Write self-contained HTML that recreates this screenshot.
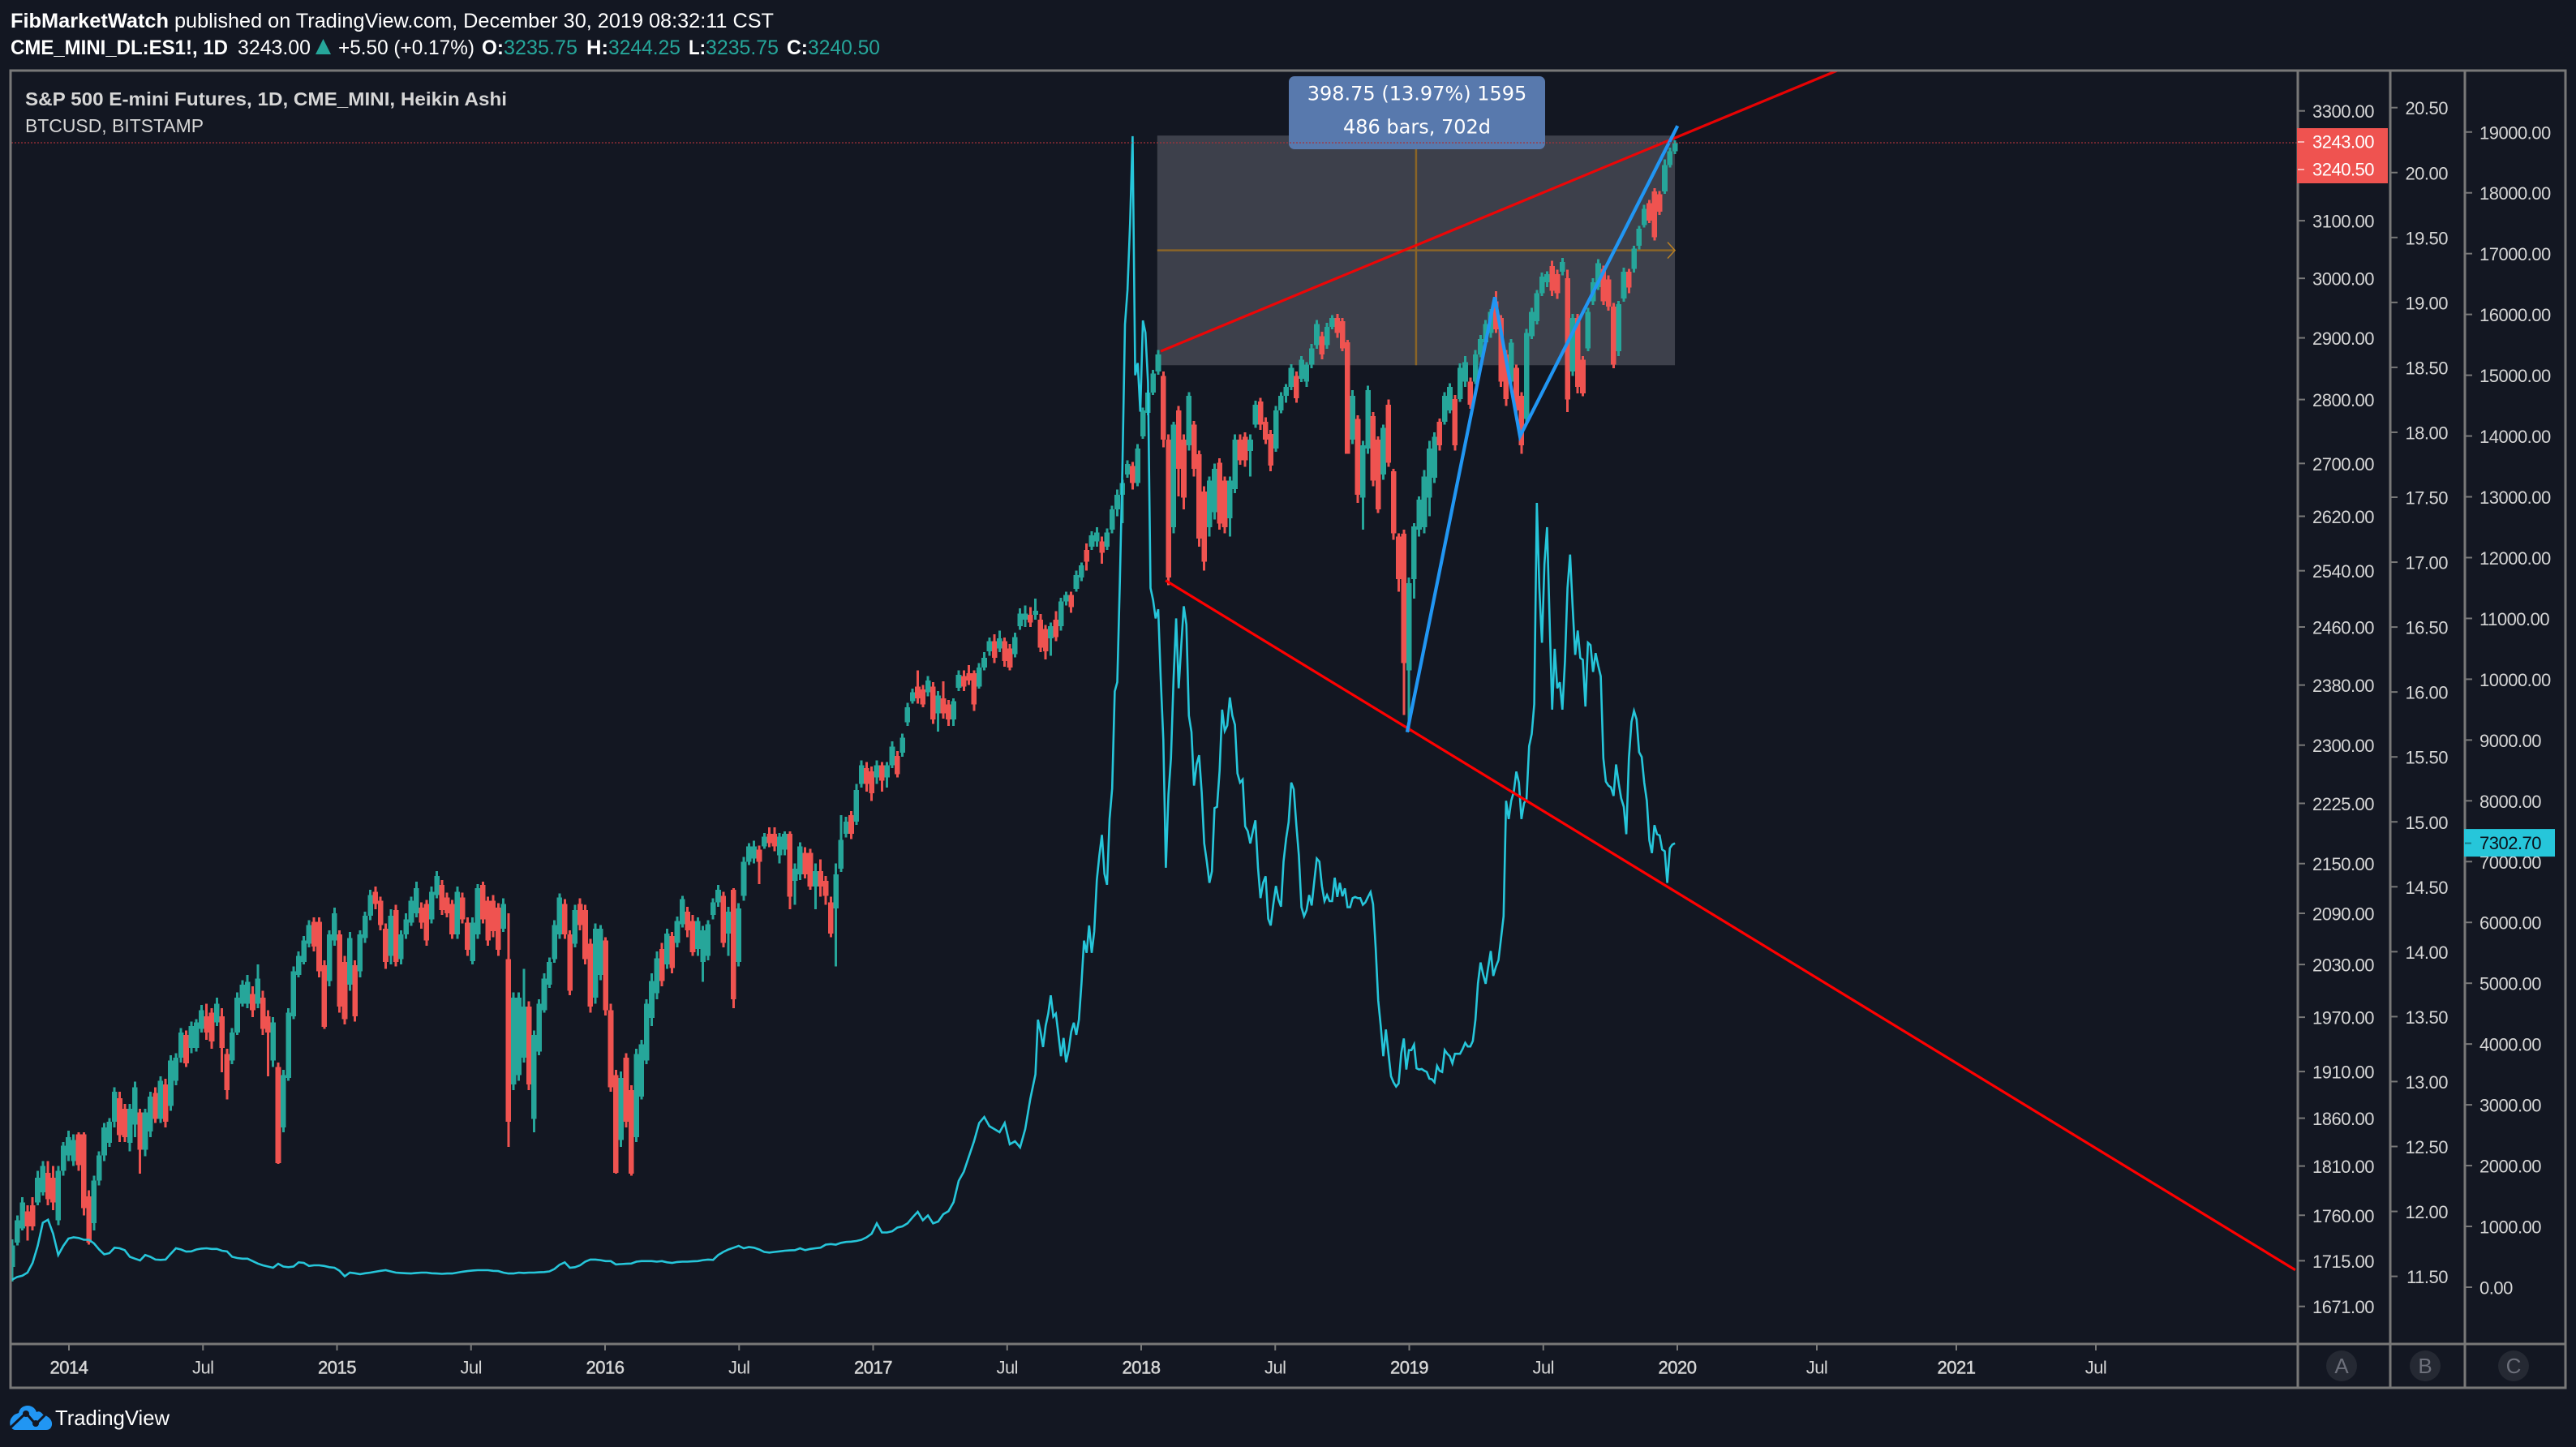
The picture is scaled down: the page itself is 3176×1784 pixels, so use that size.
<!DOCTYPE html>
<html lang="en">
<head>
<meta charset="utf-8">
<title>S&amp;P 500 E-mini Futures vs BTCUSD</title>
<style>
html,body{margin:0;padding:0;background:#131722;width:3176px;height:1784px;overflow:hidden}
svg{display:block;font-family:"Liberation Sans",Arial,sans-serif}
.tick-label{font-size:22px;fill:#d6d6d6;letter-spacing:-.5px;dominant-baseline:central}
</style>
</head>
<body>
<svg id="chart" xmlns="http://www.w3.org/2000/svg" width="3176" height="1784" viewBox="0 0 3176 1784">
  <rect x="0" y="0" width="3176" height="1784" fill="#131722"/>

  <g font-size="25" fill="#ffffff">
    <text x="13" y="34" font-weight="700" textLength="195" lengthAdjust="spacingAndGlyphs">FibMarketWatch</text>
    <text x="215" y="34" textLength="739" lengthAdjust="spacingAndGlyphs">published on TradingView.com, December 30, 2019 08:32:11 CST</text>
    <text x="13" y="67" font-weight="700" textLength="268" lengthAdjust="spacingAndGlyphs">CME_MINI_DL:ES1!, 1D</text>
    <text x="293" y="67" textLength="90" lengthAdjust="spacingAndGlyphs">3243.00</text>
    <polygon points="398.5,48 408,67 389,67" fill="#26a69a"/>
    <text x="417" y="67" textLength="168" lengthAdjust="spacingAndGlyphs">+5.50 (+0.17%)</text>
    <text x="594" y="67" font-weight="700" textLength="27" lengthAdjust="spacingAndGlyphs">O:</text>
    <text x="621" y="67" fill="#26a69a" textLength="91" lengthAdjust="spacingAndGlyphs">3235.75</text>
    <text x="723" y="67" font-weight="700" textLength="27" lengthAdjust="spacingAndGlyphs">H:</text>
    <text x="750" y="67" fill="#26a69a" textLength="89" lengthAdjust="spacingAndGlyphs">3244.25</text>
    <text x="849" y="67" font-weight="700" textLength="21" lengthAdjust="spacingAndGlyphs">L:</text>
    <text x="870" y="67" fill="#26a69a" textLength="90" lengthAdjust="spacingAndGlyphs">3235.75</text>
    <text x="970" y="67" font-weight="700" textLength="26" lengthAdjust="spacingAndGlyphs">C:</text>
    <text x="996" y="67" fill="#26a69a" textLength="89" lengthAdjust="spacingAndGlyphs">3240.50</text>
  </g>

  <g id="plot"></g>

  <g stroke="#787878" stroke-width="3" fill="none">
    <rect x="13" y="87" width="3150" height="1624"/>
    <line x1="13" y1="1657" x2="3163" y2="1657"/>
    <line x1="2833" y1="87" x2="2833" y2="1711"/>
    <line x1="2947" y1="87" x2="2947" y2="1711"/>
    <line x1="3039" y1="87" x2="3039" y2="1711"/>
  </g>

  <g id="axes"></g>

  <g fill="#d6d6d6">
    <text x="31" y="130" font-size="23" font-weight="700" textLength="594" lengthAdjust="spacingAndGlyphs">S&amp;P 500 E-mini Futures, 1D, CME_MINI, Heikin Ashi</text>
    <text x="31" y="163" font-size="23" textLength="220" lengthAdjust="spacingAndGlyphs">BTCUSD, BITSTAMP</text>
  </g>

  <g font-size="26" text-anchor="middle">
    <circle cx="2887" cy="1684" r="19" fill="#252933"/>
    <text x="2887" y="1693" fill="#6d707b">A</text>
    <circle cx="2990" cy="1684" r="19" fill="#252933"/>
    <text x="2990" y="1693" fill="#6d707b">B</text>
    <circle cx="3099" cy="1684" r="19" fill="#252933"/>
    <text x="3099" y="1693" fill="#6d707b">C</text>
  </g>

  <g>
    <path fill="#2196f3" d="M18 1763 C11 1761 11 1751 15 1747 C18 1743 21 1743 23 1742 C24 1736 29 1733 34 1733 C40 1733 44 1737 45 1741 C48 1739 51 1741 53 1744 C60 1746 65 1751 64 1757 C63 1761 61 1763 57 1763 Z"/>
    <polyline points="13,1760 32,1742 44,1756 58,1742" fill="none" stroke="#131722" stroke-width="3"/>
    <circle cx="32" cy="1743" r="4" fill="#131722"/>
    <circle cx="44" cy="1755" r="4" fill="#131722"/>
    <text x="68" y="1757" font-size="26" fill="#ffffff" textLength="141" lengthAdjust="spacingAndGlyphs">TradingView</text>
  </g>
</svg>

<script>
// Weekly Heikin Ashi bars of ES1!.
const opens=[1709,1733,1747,1764,1770,1773,1783,1803,1798,1755,
1805,1821,1815,1843,1843,1779,1752,1795,1821,1834,
1856,1881,1870,1834,1853,1866,1827,1846,1887,1859,
1896,1873,1900,1925,1950,1936,1936,1957,1971,1975,
1964,1971,1929,1922,1953,1985,1985,1996,1985,1992,
1971,1922,1915,1850,1903,1971,2018,2033,2054,2080,
2080,2029,2011,2058,2065,2033,2007,2029,2022,2061,
2087,2116,2105,2072,2040,2094,2036,2065,2079,2090,
2097,2101,2083,2112,2124,2109,2101,2065,2109,2079,
2034,2065,2124,2105,2105,2097,2072,2036,1896,1906,
1925,1982,1859,1932,1978,2007,2036,2065,2101,2065,
2054,2101,2094,2054,1992,2018,2058,1978,1906,1837,
1925,1890,1840,1883,1922,1969,1997,2048,2030,2063,
2055,2077,2092,2081,2048,2033,2040,2088,2103,2111,
2066,2118,2033,2111,2152,2156,2167,2171,2187,2187,
2160,2167,2187,2129,2137,2163,2163,2122,2141,2129,
2103,2096,2144,2187,2210,2202,2250,2270,2266,2258,
2274,2258,2274,2286,2290,2330,2358,2378,2374,2370,
2378,2342,2362,2354,2334,2376,2392,2396,2396,2378,
2404,2426,2440,2430,2440,2430,2422,2461,2470,2477,
2477,2470,2457,2444,2470,2461,2496,2505,2514,2530,
2570,2575,2583,2583,2575,2600,2630,2652,2683,2696,
2670,2742,2779,2811,2845,2838,2737,2604,2783,2737,
2728,2760,2714,2657,2604,2626,2701,2674,2617,2661,
2737,2741,2719,2760,2797,2765,2746,2723,2783,2806,
2820,2838,2833,2829,2856,2888,2903,2888,2918,2933,
2928,2893,2737,2769,2648,2723,2774,2737,2683,2792,
2688,2590,2594,2400,2528,2600,2604,2648,2678,2765,
2765,2783,2801,2801,2829,2829,2829,2873,2893,2908,
2961,2933,2873,2829,2851,2806,2769,2903,2928,2975,
2993,3021,3007,3011,3000,2845,2933,2864,2883,2961,
2985,3016,2998,2952,2878,2966,3011,3016,3056,3092,
3131,3152,3147,3152,3200,3225];
const highs=[1736,1760,1778,1770,1778,1805,1815,1815,1810,1810,
1835,1847,1843,1845,1845,1785,1800,1825,1855,1860,
1893,1888,1875,1875,1899,1870,1870,1888,1893,1905,
1902,1928,1930,1958,1955,1965,1968,1984,1985,1980,
1992,1980,1935,1958,1998,2012,2018,2005,2030,2000,
1978,1970,1920,1912,1980,2028,2045,2063,2082,2085,
2085,2035,2070,2097,2070,2040,2068,2035,2070,2092,
2118,2122,2110,2078,2095,2100,2070,2090,2110,2128,
2103,2106,2122,2141,2130,2115,2106,2122,2115,2085,
2085,2125,2128,2110,2112,2102,2108,2090,1998,1998,
2025,1988,1955,1990,2020,2038,2082,2114,2107,2070,
2100,2108,2100,2060,2078,2076,2062,1985,1912,1910,
1930,1895,1935,1945,1990,2020,2045,2055,2072,2068,
2086,2111,2098,2088,2085,2075,2082,2108,2124,2116,
2098,2120,2102,2158,2175,2178,2172,2188,2195,2195,
2188,2190,2190,2150,2176,2170,2168,2150,2155,2135,
2110,2150,2210,2208,2215,2250,2280,2278,2272,2280,
2278,2278,2305,2292,2315,2356,2375,2400,2380,2392,
2384,2372,2385,2360,2362,2400,2400,2407,2400,2410,
2425,2445,2450,2455,2445,2436,2452,2486,2490,2488,
2500,2478,2463,2466,2482,2501,2510,2510,2540,2552,
2580,2598,2604,2590,2602,2636,2660,2675,2705,2702,
2730,2787,2815,2848,2880,2845,2745,2765,2790,2745,
2812,2766,2720,2665,2680,2700,2708,2680,2680,2745,
2745,2748,2745,2798,2803,2772,2752,2790,2812,2825,
2857,2845,2870,2860,2890,2930,2910,2925,2938,2940,
2933,2897,2815,2775,2735,2822,2780,2742,2760,2800,
2692,2595,2600,2530,2610,2650,2690,2735,2748,2770,
2812,2826,2807,2858,2870,2835,2880,2905,2930,2948,
2978,2938,2880,2898,2856,2812,2915,2950,2980,3010,
3012,3030,3015,3035,3015,2940,2940,2870,2950,3000,
3033,3022,3005,2958,2962,3018,3016,3056,3091,3128,
3137,3158,3153,3210,3232,3245];
const lows=[1695,1730,1745,1735,1745,1770,1780,1770,1765,1750,
1800,1815,1810,1805,1760,1731,1745,1790,1815,1830,
1850,1835,1835,1825,1840,1802,1820,1840,1855,1855,
1850,1868,1895,1920,1915,1930,1932,1953,1945,1935,
1960,1909,1880,1918,1950,1982,1980,1970,1980,1950,
1905,1915,1812,1845,1900,1968,2015,2030,2050,2045,
2015,1957,2005,2052,1975,1962,2000,1965,2015,2055,
2082,2095,2070,2025,2030,2028,2030,2060,2075,2085,
2072,2052,2078,2108,2088,2085,2060,2060,2078,2040,
2030,2060,2078,2052,2062,2040,2068,1830,1890,1900,
1920,1890,1845,1928,1975,2003,2032,2060,2060,1995,
2050,2070,2030,1975,1985,2012,1972,1888,1802,1830,
1850,1800,1835,1880,1918,1960,1990,2005,2025,2020,
2050,2073,2062,2040,2040,2010,2035,2083,2098,2050,
2040,1980,2028,2105,2148,2150,2125,2168,2170,2165,
2150,2160,2095,2100,2130,2132,2118,2095,2110,2100,
2062,2028,2140,2182,2180,2198,2245,2240,2228,2250,
2240,2245,2270,2258,2285,2325,2355,2355,2350,2365,
2328,2318,2335,2325,2325,2372,2372,2380,2345,2375,
2400,2420,2410,2425,2405,2400,2418,2456,2460,2460,
2470,2425,2415,2420,2440,2455,2490,2480,2510,2525,
2540,2570,2575,2550,2570,2595,2620,2610,2678,2660,
2665,2738,2775,2807,2840,2725,2519,2595,2650,2630,
2720,2680,2575,2540,2590,2615,2600,2595,2590,2655,
2698,2695,2680,2755,2752,2730,2688,2718,2778,2795,
2815,2795,2828,2820,2850,2882,2865,2882,2914,2900,
2878,2715,2730,2640,2600,2715,2665,2625,2675,2695,
2585,2510,2340,2318,2500,2590,2595,2620,2670,2720,
2760,2778,2720,2796,2820,2785,2825,2868,2888,2900,
2908,2820,2790,2822,2775,2715,2760,2898,2922,2970,
2985,2970,2965,3005,2780,2838,2810,2805,2878,2955,
2980,2955,2945,2850,2870,2960,2975,3010,3050,3088,
3096,3065,3110,3148,3195,3220];
const closes=[1730,1755,1773,1749,1749,1798,1810,1776,1773,1805,
1831,1840,1837,1811,1767,1733,1795,1821,1850,1856,
1888,1842,1840,1870,1893,1827,1866,1883,1859,1900,
1856,1922,1925,1953,1919,1960,1964,1978,1953,1943,
1985,1936,1890,1953,1992,2007,2010,1978,2014,1957,
1953,1964,1813,1906,1975,2022,2040,2058,2076,2051,
2022,1959,2065,2090,1982,1968,2061,1971,2065,2087,
2112,2101,2076,2033,2087,2033,2065,2083,2105,2120,
2079,2058,2116,2135,2094,2090,2065,2116,2083,2047,
2079,2120,2083,2058,2069,2047,2101,1856,1992,1992,
1982,1896,1950,1985,2014,2033,2076,2109,2065,2000,
2094,2076,2036,1982,2072,2072,1978,1893,1803,1903,
1856,1802,1929,1940,1985,2011,2037,2011,2066,2026,
2081,2107,2070,2044,2081,2070,2077,2103,2118,2055,
2092,1990,2096,2152,2171,2171,2152,2183,2175,2171,
2183,2187,2110,2144,2171,2137,2122,2141,2122,2111,
2066,2137,2179,2202,2187,2242,2274,2250,2238,2274,
2254,2274,2298,2262,2310,2350,2370,2362,2354,2386,
2334,2366,2342,2334,2358,2394,2378,2386,2354,2404,
2417,2440,2417,2444,2413,2404,2446,2479,2479,2466,
2483,2431,2426,2461,2446,2496,2505,2488,2534,2548,
2553,2592,2596,2566,2596,2630,2652,2670,2699,2670,
2723,2783,2811,2842,2873,2737,2530,2760,2692,2648,
2806,2692,2587,2553,2674,2692,2609,2604,2674,2737,
2705,2705,2737,2792,2760,2737,2697,2783,2806,2820,
2851,2802,2864,2856,2883,2923,2873,2918,2933,2908,
2883,2715,2806,2652,2728,2815,2674,2630,2755,2701,
2595,2528,2410,2522,2605,2645,2680,2723,2741,2728,
2806,2820,2728,2851,2860,2792,2873,2898,2923,2943,
2914,2829,2801,2892,2783,2728,2908,2943,2975,3003,
3007,2979,2975,3028,2800,2933,2820,2810,2943,2993,
3026,2961,2952,2856,2956,3011,2984,3051,3086,3121,
3100,3071,3116,3200,3225,3240.5];

// BTCUSD closes: one reading per bar up to mid 2017, two per bar afterwards.
const btcWeekly=[123,170,189,240,400,680,1060,1110,880,530,
680,800,820,810,780,780,720,620,540,560,
650,640,610,500,470,440,530,500,455,450,
455,550,640,620,585,590,620,635,640,630,
630,600,590,500,480,470,470,430,390,360,
340,320,385,340,330,340,410,400,350,360,
360,350,330,320,270,180,240,230,215,230,
240,255,270,280,260,240,235,230,225,235,
240,240,230,225,220,225,225,240,255,265,
275,280,280,280,270,265,240,225,225,240,
235,240,240,245,250,260,300,370,410,320,
330,360,420,455,455,445,430,430,375,380,
385,390,420,430,430,430,420,430,410,400,
415,420,420,425,430,445,455,450,530,580,
620,650,680,640,660,650,620,580,570,580,
590,600,605,610,640,610,630,640,650,700,
710,700,730,745,750,760,780,820,880,1050,
900,900,920,980,1000,1050,1150,1240,1100,1180,
1050,1080,1200,1250,1400,1750,1900,2150,2400,2700,
2800,2650,2600,2550,2700,2350,2400,2300,2600,3100];
const btcHalfWeekly=[3500,4400,4200,3950,4300,4500,4800,4450,4500,4150,
3800,4100,3700,3900,4200,4350,4150,4400,5000,5700,
5500,5950,5500,5850,6700,7100,7440,6800,6620,7700,
8200,9800,9950,11600,13450,15835,16400,17500,18932,15000,
15200,14400,15900,15700,14880,11500,11300,11000,11150,10000,
9000,6900,8100,8700,10000,11000,9850,10560,11200,10900,
9400,9130,8250,8600,8750,8140,7300,7000,6650,6840,
7880,7900,8500,9500,9150,9240,9700,9400,9250,8450,
8300,8350,7580,7500,7300,7500,7680,6900,6400,6650,
6760,6060,5950,6300,6600,6380,6260,7000,7380,7650,
8300,8190,7600,7100,6250,6100,6200,6450,6280,6680,
7050,7000,6600,6350,6450,6350,6350,6735,6420,6650,
6430,6560,6250,6250,6400,6420,6400,6400,6290,6330,
6420,6500,6300,5580,4720,4290,3800,4240,3850,3470,
3370,3300,3350,3850,4090,3580,3900,3900,3990,3600,
3580,3590,3560,3540,3430,3420,3370,3640,3560,3540,
3900,3840,3800,3680,3840,3840,3840,3920,4020,3960,
3960,4050,4400,5000,5340,5150,4990,5260,5530,5120,
5270,5380,5730,6100,8000,7700,8000,8150,8480,8300,
7700,7960,8030,8900,9100,9590,12900,11500,10600,11900,
12500,11000,9500,10500,9850,9950,9500,10300,11500,12050,
11200,10400,10800,10350,10320,9550,10600,10560,10120,10430,
10220,10050,8700,8317,8250,8220,8080,8598,8290,8040,
7900,7450,8700,9300,9480,9338,8800,8720,8300,8000,
7350,7140,7600,7450,7430,7200,7170,6650,7220,7280,7302.7];

// Axis ticks and printed labels.
const priceTicks=[3300,3100,3000,2900,2800,2700,2620,2540,2460,2380,2300,2225,2150,2090,2030,1970,1910,1860,1810,1760,1715,1671];
const ratioTicks=[20.5,20,19.5,19,18.5,18,17.5,17,16.5,16,15.5,15,14.5,14,13.5,13,12.5,12,11.5];
const btcTicks=[19000,18000,17000,16000,15000,14000,13000,12000,11000,10000,9000,8000,7000,6000,5000,4000,3000,2000,1000,0];
const timeTickLabels=['2014','Jul','2015','Jul','2016','Jul','2017','Jul','2018','Jul','2019','Jul','2020','Jul','2021','Jul'];
const timeTickYears=[2014,2014.5,2015,2015.5,2016,2016.5,2017,2017.5,2018,2018.5,2019,2019.5,2020,2020.5,2021,2021.5];

// Drawing-tool anchors in chart units (year, price).
const resistanceLineYears=[2018.073,2020.573];
const resistanceLinePrices=[2878,3376.6];
const supportLineYears=[2018.091,2022.215];
const supportLinePrices=[2526,1706];
const blueZigzagYears=[2018.992,2019.319,2019.413,2020.001];
const blueZigzagPrices=[2317,2968,2742,3272];
const rangeYears=[2018.06,2019.991];
const rangePrices=[3254,2855.25];
const lastPrice=3243;
const lastBtc=7302.7;

const firstBarYear=2013.7882;
const barYears=0.019086;

// Axis functions.
function xOfYear(t){return t<=2020?85+330.5*(t-2014):2068+344*(t-2020);}
function yOfPrice(p){return 136.7+2166*Math.log(3300/p);}
function yOfRatio(v){return 132.7+160.1*(20.5-v);}
function yOfBtc(v){return 1587-0.07496*v;}

const NS='http://www.w3.org/2000/svg';
const plot=document.getElementById('plot');
const axes=document.getElementById('axes');
function make(parent,tag,props){
  const el=document.createElementNS(NS,tag);
  for(const k in props){el.setAttribute(k,props[k]);}
  parent.appendChild(el);
  return el;
}

// Price range tool background.
const rx1=xOfYear(rangeYears[0]),rx2=xOfYear(rangeYears[1]);
const ry1=yOfPrice(rangePrices[0]),ry2=yOfPrice(rangePrices[1]);
const rangeBox=make(plot,'rect',{x:rx1,y:ry1,width:rx2-rx1,height:ry2-ry1,fill:'#3d404b'});



const rangeV=make(plot,'line',{x1:(rx1+rx2)/2,x2:(rx1+rx2)/2,y1:ry1,y2:ry2,stroke:'#8a6427','stroke-width':2.5});



const rangeH=make(plot,'line',{x1:rx1,x2:rx2,y1:(ry1+ry2)/2,y2:(ry1+ry2)/2,stroke:'#8a6427','stroke-width':2.5});



const rangeHead=make(plot,'polyline',{points:[rx2-9,(ry1+ry2)/2-10,rx2,(ry1+ry2)/2,rx2-9,(ry1+ry2)/2+10].join(','),fill:'none',stroke:'#b97f22','stroke-width':1.5});



// Candles.
opens.forEach(function(o,i){
  const c=closes[i];
  const up=c>=o;
  const col=up?'#26a69a':'#ef5350';
  const x=xOfYear(firstBarYear+i*barYears);
  const wick=make(plot,'line',{x1:x,x2:x,y1:yOfPrice(highs[i]),y2:yOfPrice(lows[i]),stroke:col,'stroke-width':3,'shape-rendering':'crispEdges'});
  
  
  const top=yOfPrice(Math.max(o,c));
  const bot=yOfPrice(Math.min(o,c));
  const body=make(plot,'rect',{x:x-3.3,y:top,width:6.6,height:Math.max(bot-top,1.5),fill:col,'shape-rendering':'crispEdges'});
  
  
});

// BTC line.
const btcPts=[];
btcWeekly.forEach(function(v,i){
  btcPts.push(xOfYear(firstBarYear+i*barYears).toFixed(1)+','+yOfBtc(v).toFixed(1));
});
btcHalfWeekly.forEach(function(v,j){
  btcPts.push(xOfYear(firstBarYear+(btcWeekly.length+j/2)*barYears).toFixed(1)+','+yOfBtc(v).toFixed(1));
});
const btcLine=make(plot,'polyline',{points:btcPts.join(' '),fill:'none',stroke:'#26c6da','stroke-width':2.6,'stroke-linejoin':'miter'});



// Trend lines.
const upLine=make(plot,'line',{x1:xOfYear(resistanceLineYears[0]),y1:yOfPrice(resistanceLinePrices[0]),x2:xOfYear(resistanceLineYears[1]),y2:yOfPrice(resistanceLinePrices[1]),stroke:'#ff0000','stroke-width':3.2,opacity:.9});



const downLine=make(plot,'line',{x1:xOfYear(supportLineYears[0]),y1:yOfPrice(supportLinePrices[0]),x2:xOfYear(supportLineYears[1]),y2:yOfPrice(supportLinePrices[1]),stroke:'#ff0000','stroke-width':3.2});



const zigzagPts=blueZigzagYears.map(function(t,i){return xOfYear(t).toFixed(1)+','+yOfPrice(blueZigzagPrices[i]).toFixed(1);});
const zigzag=make(plot,'polyline',{points:zigzagPts.join(' '),fill:'none',stroke:'#2196f3','stroke-width':4.2,'stroke-linejoin':'miter'});



// Range tooltip.
const tip=make(plot,'rect',{x:1589,y:94,width:316,height:90,rx:7,fill:'#5879ad'});



const tipA=make(plot,'text',{x:1747,y:123.5,'text-anchor':'middle','font-size':24,fill:'#ffffff','font-family':'"DejaVu Sans",sans-serif'});


tipA.textContent='398.75 (13.97%) 1595';

const tipB=make(plot,'text',{x:1747,y:164.5,'text-anchor':'middle','font-size':24,fill:'#ffffff','font-family':'"DejaVu Sans",sans-serif'});


tipB.textContent='486 bars, 702d';

// Last price line.
const lastLine=make(plot,'line',{x1:14,x2:2832,y1:yOfPrice(lastPrice)+1.5,y2:yOfPrice(lastPrice)+1.5,stroke:'#a8323a','stroke-width':2,'stroke-dasharray':'2 2',opacity:.6});



// Price axis A.
priceTicks.forEach(function(p){
  const y=yOfPrice(p);
  const t=make(axes,'line',{x1:2834,x2:2842,y1:y,y2:y,stroke:'#787878','stroke-width':2});
  
  
  const l=make(axes,'text',{x:2851,y:y+1,class:'tick-label'});
  
  
  l.textContent=p.toFixed(2);
});

// Ratio axis B.
ratioTicks.forEach(function(v){
  const y=yOfRatio(v);
  const t=make(axes,'line',{x1:2948,x2:2956,y1:y,y2:y,stroke:'#787878','stroke-width':2});
  
  
  const l=make(axes,'text',{x:3018,y:y+1,class:'tick-label','text-anchor':'end'});
  
  
  l.textContent=v.toFixed(2);
});

// BTC axis C.
btcTicks.forEach(function(v){
  const y=yOfBtc(v);
  const t=make(axes,'line',{x1:3040,x2:3048,y1:y,y2:y,stroke:'#787878','stroke-width':2});
  
  
  const l=make(axes,'text',{x:3057,y:y+1,class:'tick-label'});
  
  
  l.textContent=v.toFixed(2);
});

// Time axis.
timeTickLabels.forEach(function(s,i){
  const x=xOfYear(timeTickYears[i]);
  const t=make(axes,'line',{x1:x,x2:x,y1:1658,y2:1665,stroke:'#787878','stroke-width':2});
  
  
  const isYear=s!=='Jul';
  const l=make(axes,'text',{x:x,y:1686,class:'tick-label','text-anchor':'middle',stroke:isYear?'#d6d6d6':'none','stroke-width':isYear?0.5:0});
  
  
  l.textContent=s;
});

// Last value badges.
const badgeA=make(axes,'rect',{x:2832,y:158,width:112,height:68,fill:'#ef5350'});



const badgeTick1=make(axes,'line',{x1:2833,x2:2841,y1:175,y2:175,stroke:'#f9b4b2','stroke-width':2});



const badgeTick2=make(axes,'line',{x1:2833,x2:2841,y1:209,y2:209,stroke:'#f9b4b2','stroke-width':2});



const badgeT1=make(axes,'text',{x:2851,y:175,class:'tick-label',style:'fill:#ffffff'});


badgeT1.textContent=lastPrice.toFixed(2);

const badgeT2=make(axes,'text',{x:2851,y:209,class:'tick-label',style:'fill:#ffffff'});


badgeT2.textContent=closes[closes.length-1].toFixed(2);

const btcY=yOfBtc(lastBtc);
const badgeC=make(axes,'rect',{x:3038,y:btcY-17.5,width:112,height:34,fill:'#26c6da'});



const badgeCT=make(axes,'line',{x1:3039,x2:3047,y1:btcY,y2:btcY,stroke:'#157d8a','stroke-width':2});



const badgeCL=make(axes,'text',{x:3057,y:btcY,class:'tick-label',style:'fill:#0b0f18'});


badgeCL.textContent=lastBtc.toFixed(2);
</script>
</body>
</html>
